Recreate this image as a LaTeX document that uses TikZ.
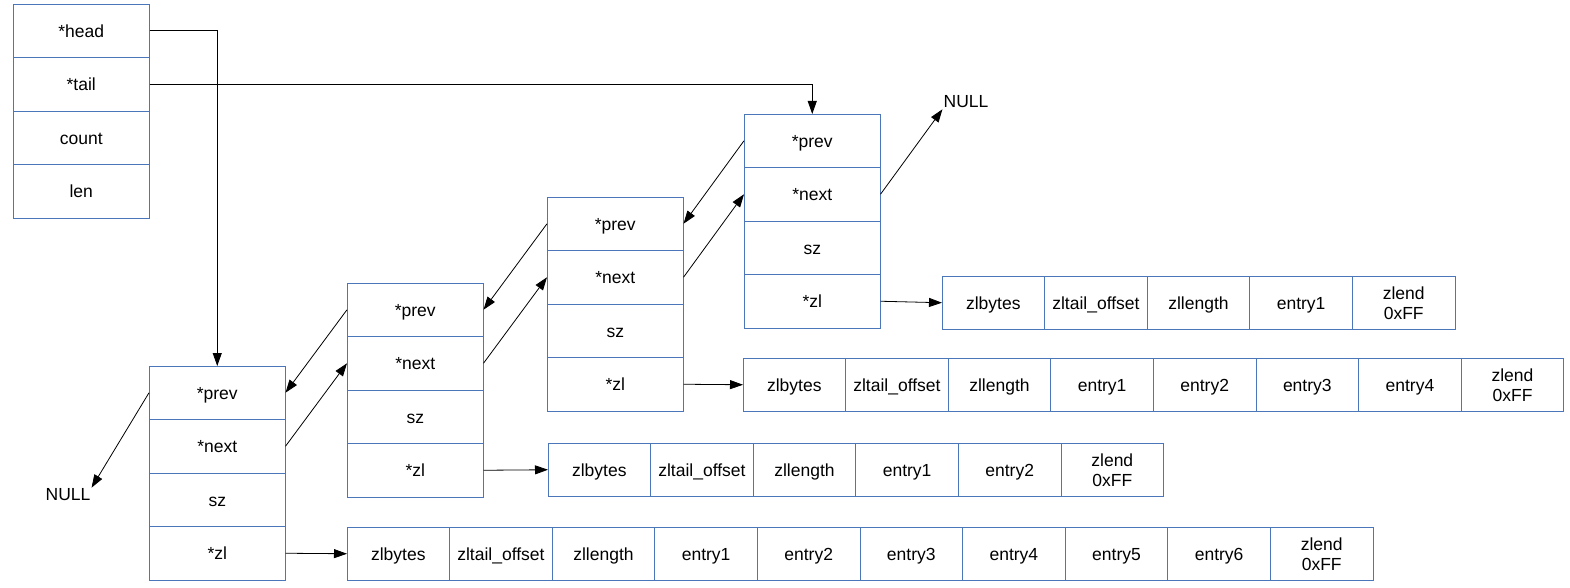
\documentclass[tikz,border=0pt]{standalone}
\usepackage{fontspec}
\setmainfont{Liberation Sans}
\usetikzlibrary{positioning,arrows.meta}
\definecolor{boxblue}{RGB}{76,118,186}
\tikzset{
	field/.style={draw=boxblue,line width=0.85pt,minimum width=136.5pt,minimum height=53.5pt,inner sep=0pt,outer sep=0pt,text height=12.6pt,text depth=0pt,font=\fontsize{17.5}{20}\selectfont},
	zlcell/.style={field,minimum width=102.6pt},
	zlend/.style={field,minimum width=102.6pt,align=center,text height=,text depth=},
	nullnode/.style={inner sep=1pt,font=\fontsize{17.5}{20}\selectfont},
	ptr/.style={-{Triangle[length=13pt,width=9pt]},line width=0.8pt}
}

\begin{document}
\begin{tikzpicture}[x=1pt,y=-1pt]
			\useasboundingbox[fill=white] (0,0) rectangle (1570,588);

			\node[field,anchor=north west] (lhead) at (13,4) {*head};
			\node[field,below=0pt of lhead] (ltail) {*tail};
			\node[field,below=0pt of ltail] (lcount) {count};
			\node[field,below=0pt of lcount] (llen) {len};

			\node[field,anchor=north west] (n1prev) at (149,366) {*prev};
			\node[field,below=0pt of n1prev] (n1next) {*next};
			\node[field,below=0pt of n1next] (n1sz) {sz};
			\node[field,below=0pt of n1sz] (n1zl) {*zl};

			\node[field,anchor=north west] (n2prev) at (347,283) {*prev};
			\node[field,below=0pt of n2prev] (n2next) {*next};
			\node[field,below=0pt of n2next] (n2sz) {sz};
			\node[field,below=0pt of n2sz] (n2zl) {*zl};

			\node[field,anchor=north west] (n3prev) at (547,197) {*prev};
			\node[field,below=0pt of n3prev] (n3next) {*next};
			\node[field,below=0pt of n3next] (n3sz) {sz};
			\node[field,below=0pt of n3sz] (n3zl) {*zl};

			\node[field,anchor=north west] (n4prev) at (744,114) {*prev};
			\node[field,below=0pt of n4prev] (n4next) {*next};
			\node[field,below=0pt of n4next] (n4sz) {sz};
			\node[field,below=0pt of n4sz] (n4zl) {*zl};

			\node[nullnode] (nullA) at (68,495) {NULL};
			\node[nullnode] (nullB) at (966,102) {NULL};

			\node[zlcell,anchor=north west] (zlA1) at (347,527) {zlbytes};
			\node[zlcell,right=0pt of zlA1] (zlA2) {zltail\_offset};
			\node[zlcell,right=0pt of zlA2] (zlA3) {zllength};
			\node[zlcell,right=0pt of zlA3] (zlA4) {entry1};
			\node[zlcell,right=0pt of zlA4] (zlA5) {entry2};
			\node[zlcell,right=0pt of zlA5] (zlA6) {entry3};
			\node[zlcell,right=0pt of zlA6] (zlA7) {entry4};
			\node[zlcell,right=0pt of zlA7] (zlA8) {entry5};
			\node[zlcell,right=0pt of zlA8] (zlA9) {entry6};
			\node[zlend,right=0pt of zlA9] (zlA10) {zlend\\0xFF};

			\node[zlcell,anchor=north west] (zlB1) at (548,443) {zlbytes};
			\node[zlcell,right=0pt of zlB1] (zlB2) {zltail\_offset};
			\node[zlcell,right=0pt of zlB2] (zlB3) {zllength};
			\node[zlcell,right=0pt of zlB3] (zlB4) {entry1};
			\node[zlcell,right=0pt of zlB4] (zlB5) {entry2};
			\node[zlend,right=0pt of zlB5] (zlB6) {zlend\\0xFF};

			\node[zlcell,anchor=north west] (zlC1) at (743,358) {zlbytes};
			\node[zlcell,right=0pt of zlC1] (zlC2) {zltail\_offset};
			\node[zlcell,right=0pt of zlC2] (zlC3) {zllength};
			\node[zlcell,right=0pt of zlC3] (zlC4) {entry1};
			\node[zlcell,right=0pt of zlC4] (zlC5) {entry2};
			\node[zlcell,right=0pt of zlC5] (zlC6) {entry3};
			\node[zlcell,right=0pt of zlC6] (zlC7) {entry4};
			\node[zlend,right=0pt of zlC7] (zlC8) {zlend\\0xFF};

			\node[zlcell,anchor=north west] (zlD1) at (942,276) {zlbytes};
			\node[zlcell,right=0pt of zlD1] (zlD2) {zltail\_offset};
			\node[zlcell,right=0pt of zlD2] (zlD3) {zllength};
			\node[zlcell,right=0pt of zlD3] (zlD4) {entry1};
			\node[zlend,right=0pt of zlD4] (zlD5) {zlend\\0xFF};

			\draw[ptr] (lhead.east) -| (n1prev.north);
			\draw[ptr] (ltail.east) -| (n4prev.north);

			\draw[ptr] (n1prev.west) -- (nullA.north east);
			\draw[ptr] (n2prev.west) -- (n1prev.east);
			\draw[ptr] (n3prev.west) -- (n2prev.east);
			\draw[ptr] (n4prev.west) -- (n3prev.east);

			\draw[ptr] (n1next.east) -- (n2next.west);
			\draw[ptr] (n2next.east) -- (n3next.west);
			\draw[ptr] (n3next.east) -- (n4next.west);
			\draw[ptr] (n4next.east) -- (nullB.south west);

			\draw[ptr] (n1zl.east) -- (zlA1.west);
			\draw[ptr] (n2zl.east) -- (zlB1.west);
			\draw[ptr] (n3zl.east) -- (zlC1.west);
			\draw[ptr] (n4zl.east) -- (zlD1.west);
		\end{tikzpicture}
\end{document}
